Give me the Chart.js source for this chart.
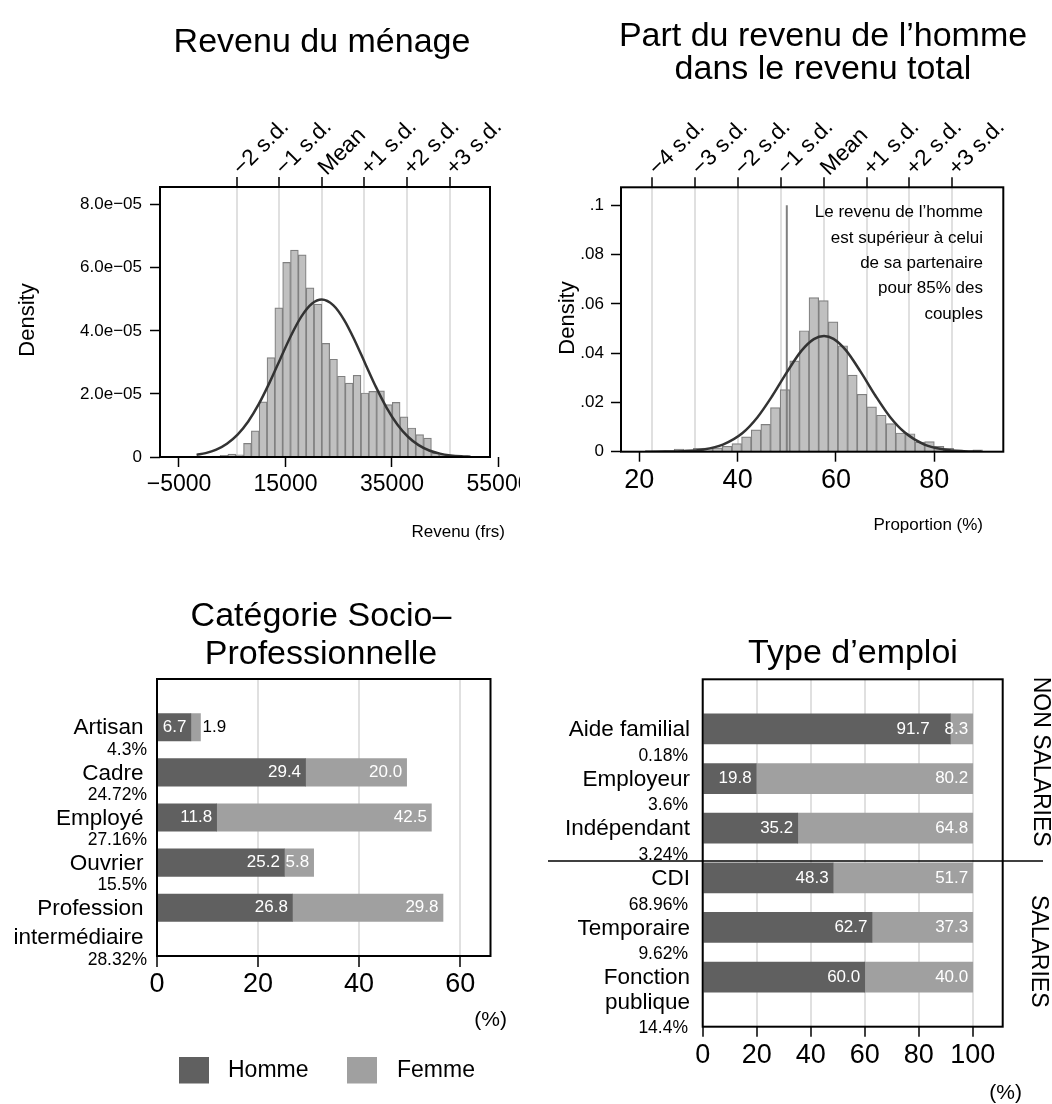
<!DOCTYPE html>
<html>
<head>
<meta charset="utf-8">
<script src="https://cdn.jsdelivr.net/npm/chart.js@4.4.0/dist/chart.umd.min.js"></script>
<style>
  html, body { margin: 0; padding: 0; background: #fff; }
  #page { position: relative; width: 1052px; height: 1104px; overflow: hidden; background: #fff; }
  #page canvas { position: absolute; }
</style>
</head>
<body>
<div id="page">
  <canvas id="revenu" width="520" height="552" style="left:0px;top:0px"></canvas>
  <canvas id="part" width="532" height="552" style="left:520px;top:0px"></canvas>
  <canvas id="csp" width="540" height="552" style="left:0px;top:552px"></canvas>
  <canvas id="emploi" width="512" height="552" style="left:540px;top:552px"></canvas>
</div>
<script>
// ---- Revenu du ménage (histogram, density in units of 1e-05) ----
const revenuBinStart = -1700;
const revenuBinWidth = 1470;
const revenuDensity = [0.02, 0.02, 0.03, 0.05, 0.09, 0.07, 0.43, 0.83, 1.75, 3.15, 4.73, 6.17, 6.56, 6.41, 5.36,
  4.85, 3.60, 3.10, 2.56, 2.34, 2.59, 2.03, 2.08, 2.10, 1.66, 1.73, 1.27, 0.92, 0.71, 0.60, 0.13, 0.07, 0.04, 0.03, 0.02];
const revenuCurveX = [-1700, 0, 2000, 4000, 6000, 8000, 10000, 12000, 14000, 16000, 18000, 20000, 21800, 24000,
  26000, 28000, 30000, 32000, 34000, 36000, 38000, 40000, 42000, 44000, 46000, 48000, 49750];
const revenuCurveY = [0.067, 0.122, 0.233, 0.420, 0.710, 1.127, 1.682, 2.357, 3.102, 3.837, 4.458, 4.865, 4.99, 4.805,
  4.348, 3.696, 2.951, 2.214, 1.560, 1.032, 0.642, 0.375, 0.206, 0.106, 0.051, 0.023, 0.011];
const revenuXTicks = [-5000, 15000, 35000, 55000];
const revenuXLabels = ['\u22125000', '15000', '35000', '55000'];
const revenuYTicks = [0, 2, 4, 6, 8];
const revenuYLabels = ['0', '2.0e\u221205', '4.0e\u221205', '6.0e\u221205', '8.0e\u221205'];
const revenuSdTicks = [5800, 13800, 21800, 29800, 37800, 45800];
const revenuSdLabels = ['\u22122 s.d.', '\u22121 s.d.', 'Mean', '+1 s.d.', '+2 s.d.', '+3 s.d.'];

// ---- Part du revenu de l'homme ----
const partBinStart = 21.2;
const partBinWidth = 1.96;
const partDensity = [0.0003, 0.0001, 0.0004, 0.0011, 0.0008, 0.0014, 0.0015, 0.0016, 0.0022, 0.0033, 0.0060, 0.0089,
  0.0111, 0.0179, 0.0252, 0.0369, 0.0491, 0.0625, 0.0613, 0.0527, 0.0430, 0.0311, 0.0233, 0.0182, 0.0148, 0.0114,
  0.0076, 0.0073, 0.0039, 0.0041, 0.0022, 0.0014, 0.0004, 0.0003, 0.0008];
const partCurveX = [21.2, 25, 29, 33, 37, 41, 44, 47, 50, 53, 55.5, 57.57, 59.5, 62, 65, 68, 71, 74, 78, 82, 86, 89.6];
const partCurveY = [0.00001, 0.00004, 0.0002, 0.0009, 0.0029, 0.0076, 0.0139, 0.0225, 0.0322, 0.0410, 0.0457, 0.0470,
  0.0458, 0.0412, 0.0325, 0.0228, 0.0141, 0.0078, 0.0029, 0.0009, 0.0002, 0.00005];
const partXTicks = [20, 40, 60, 80];
const partXLabels = ['20', '40', '60', '80'];
const partYTicks = [0, 0.02, 0.04, 0.06, 0.08, 0.1];
const partYLabels = ['0', '.02', '.04', '.06', '.08', '.1'];
const partSdTicks = [22.64, 31.39, 40.07, 48.75, 57.57, 66.26, 74.94, 83.62];
const partSdLabels = ['\u22124 s.d.', '\u22123 s.d.', '\u22122 s.d.', '\u22121 s.d.', 'Mean', '+1 s.d.', '+2 s.d.', '+3 s.d.'];
const partThreshold = 50;
const partThresholdTop = 0.1;
const partNote = ['Le revenu de l\u2019homme', 'est sup\u00e9rieur \u00e0 celui', 'de sa partenaire', 'pour 85% des', 'couples'];

// ---- Catégorie Socio-Professionnelle ----
const cspCategories = [['Artisan'], ['Cadre'], ['Employ\u00e9'], ['Ouvrier'], ['Profession', 'interm\u00e9diaire']];
const cspShares = ['4.3%', '24.72%', '27.16%', '15.5%', '28.32%'];
const cspHomme = [6.7, 29.4, 11.8, 25.2, 26.8];
const cspFemme = [1.9, 20.0, 42.5, 5.8, 29.8];
const cspXTicks = [0, 20, 40, 60];

// ---- Type d'emploi ----
const emploiCategories = [['Aide familial'], ['Employeur'], ['Ind\u00e9pendant'], ['CDI'], ['Temporaire'], ['Fonction', 'publique']];
const emploiShares = ['0.18%', '3.6%', '3.24%', '68.96%', '9.62%', '14.4%'];
const emploiHomme = [91.7, 19.8, 35.2, 48.3, 62.7, 60.0];
const emploiFemme = [8.3, 80.2, 64.8, 51.7, 37.3, 40.0];
const emploiXTicks = [0, 20, 40, 60, 80, 100];
const emploiGroups = ['NON SALARIES', 'SALARIES'];

const seriesNames = ['Homme', 'Femme'];
const seriesColors = ['#606060', '#a0a0a0'];

const FONT = "'Liberation Sans', Arial, Helvetica, sans-serif";
Chart.defaults.font.family = FONT;
Chart.defaults.color = '#000';

function drawText(ctx, str, x, y, size, align, baseline, color, rotate) {
  ctx.save();
  ctx.font = size + 'px ' + FONT;
  ctx.fillStyle = color || '#000';
  ctx.textAlign = align || 'left';
  ctx.textBaseline = baseline || 'middle';
  ctx.translate(x, y);
  if (rotate) ctx.rotate(rotate);
  ctx.fillText(str, 0, 0);
  ctx.restore();
}

function fixedSize(w, h) {
  return function(scale) {
    if (w !== null) scale.width = w;
    if (h !== null) scale.height = h;
    scale.paddingLeft = 0;
    scale.paddingRight = 0;
    scale.paddingTop = 0;
    scale.paddingBottom = 0;
  };
}

function boxPlugin() {
  return {
    id: 'box',
    afterDraw(chart) {
      const a = chart.chartArea, ctx = chart.ctx;
      ctx.save();
      ctx.strokeStyle = '#000';
      ctx.lineWidth = 2;
      ctx.strokeRect(a.left, a.top, a.right - a.left, a.bottom - a.top);
      ctx.restore();
    }
  };
}

// histogram + normal curve panel
function histogram(id, cfg) {
  const canvas = document.getElementById(id);
  const ox = cfg.offset[0], oy = cfg.offset[1];
  const L = cfg.box[0] - ox, R = cfg.box[1] - ox, T = cfg.box[2] - oy, B = cfg.box[3] - oy;
  const centers = cfg.density.map((d, i) => cfg.binStart + cfg.binWidth * (i + 0.5));
  const datasets = [
    {
      type: 'line', xAxisID: 'x', yAxisID: 'y', order: 0,
      data: cfg.curveX.map((x, i) => ({x: x, y: cfg.curveY[i]})),
      borderColor: '#333333', borderWidth: 2.5, pointRadius: 0, fill: false,
      cubicInterpolationMode: 'monotone'
    },
    {
      type: 'bar', xAxisID: 'x', yAxisID: 'y', order: 2,
      data: centers.map((x, i) => ({x: x, y: cfg.density[i]})),
      backgroundColor: '#c0c0c0', borderColor: '#808080', borderWidth: 1.2,
      barPercentage: 1, categoryPercentage: 1
    }
  ];
  if (cfg.vline) {
    datasets.push({
      type: 'line', xAxisID: 'x', yAxisID: 'y', order: 1,
      data: [{x: cfg.vline[0], y: 0}, {x: cfg.vline[0], y: cfg.vline[1]}],
      borderColor: '#808080', borderWidth: 2, pointRadius: 0, fill: false
    });
  }
  return new Chart(canvas, {
    type: 'bar',
    data: {datasets: datasets},
    options: {
      responsive: false,
      animation: false,
      layout: {padding: {left: 0, top: 0, right: canvas.width - R, bottom: 0}},
      plugins: {legend: {display: false}, tooltip: {enabled: false}},
      scales: {
        x: {
          type: 'linear', position: 'bottom', min: cfg.xMin, max: cfg.xMax, offset: false,
          afterBuildTicks: s => { s.ticks = cfg.xTicks.map(v => ({value: v})); },
          afterFit: fixedSize(null, canvas.height - B),
          ticks: {
            autoSkip: false, minRotation: 0, maxRotation: 0, padding: cfg.xPad,
            font: {size: cfg.xFont, lineHeight: 1}, callback: (v, i) => cfg.xLabels[i]
          },
          grid: {display: true, drawOnChartArea: false, offset: false, tickLength: 10, tickColor: '#000', tickWidth: 1.5},
          border: {display: false}
        },
        xTop: {
          type: 'linear', position: 'top', min: cfg.xMin, max: cfg.xMax, offset: false,
          afterBuildTicks: s => { s.ticks = cfg.sdTicks.map(v => ({value: v})); },
          afterFit: fixedSize(null, T),
          ticks: {display: false, autoSkip: false, minRotation: 0, maxRotation: 0},
          grid: {display: true, drawOnChartArea: true, offset: false, color: '#e0e0e0', lineWidth: 2,
                 tickLength: 10, tickColor: '#000', tickWidth: 1.5},
          border: {display: false}
        },
        y: {
          type: 'linear', position: 'left', min: 0, max: cfg.yMax,
          afterBuildTicks: s => { s.ticks = cfg.yTicks.map(v => ({value: v})); },
          afterFit: fixedSize(L, null),
          ticks: {autoSkip: false, padding: cfg.yPad, font: {size: 17, lineHeight: 1}, callback: (v, i) => cfg.yLabels[i]},
          grid: {display: true, drawOnChartArea: false, tickLength: 10, tickColor: '#000', tickWidth: 1.5},
          border: {display: false}
        }
      }
    },
    plugins: [boxPlugin(), {
      id: 'texts',
      afterDraw(chart) {
        const ctx = chart.ctx;
        const xs = chart.scales.xTop;
        const top = chart.chartArea.top;
        ctx.save();
        ctx.translate(-ox, -oy);
        // rotated s.d. labels above the tick marks
        cfg.sdTicks.forEach((v, i) => {
          const px = xs.getPixelForValue(v) + ox;
          drawText(ctx, cfg.sdLabels[i], px + 5, top + oy - 11, 22.5, 'left', 'alphabetic', '#000', -Math.PI / 4);
        });
        cfg.title.forEach((t, k) => drawText(ctx, t, cfg.titleX, cfg.titleY[k], 34, 'center', 'alphabetic'));
        drawText(ctx, 'Density', cfg.densityAt[0], cfg.densityAt[1], 22, 'center', 'middle', '#000', -Math.PI / 2);
        drawText(ctx, cfg.xTitle, cfg.xTitleAt[0], cfg.xTitleAt[1], 17, 'right');
        if (cfg.note) {
          cfg.note.forEach((t, k) => drawText(ctx, t, cfg.noteAt[0], cfg.noteAt[1] + k * 25.3, 17, 'right'));
        }
        ctx.restore();
      }
    }]
  });
}

function barLabels(chart, homme, femme) {
  const ctx = chart.ctx;
  const m0 = chart.getDatasetMeta(0), m1 = chart.getDatasetMeta(1);
  ctx.save();
  ctx.font = '17px ' + FONT;
  ctx.textBaseline = 'middle';
  homme.forEach((v, i) => {
    const h = m0.data[i], f = m1.data[i];
    const hText = v.toFixed(1), fText = femme[i].toFixed(1);
    const fw = ctx.measureText(fText).width;
    let fLeft = Infinity;
    if (f.x - f.base < fw / 2) {
      ctx.fillStyle = '#000';
      ctx.textAlign = 'left';
      ctx.fillText(fText, f.x + 2, f.y);
    } else {
      ctx.fillStyle = '#fff';
      ctx.textAlign = 'right';
      ctx.fillText(fText, f.x - 4.5, f.y);
      fLeft = f.x - 4.5 - fw;
    }
    let hRight = h.x - 4.5;
    if (hRight > fLeft - 3) hRight = fLeft - 15;
    ctx.fillStyle = '#fff';
    ctx.textAlign = 'right';
    ctx.fillText(hText, hRight, h.y);
  });
  ctx.restore();
}

// stacked horizontal bars panel
function stackedBars(id, cfg) {
  const canvas = document.getElementById(id);
  const ox = cfg.offset[0], oy = cfg.offset[1];
  const L = cfg.box[0] - ox, R = cfg.box[1] - ox, T = cfg.box[2] - oy, B = cfg.box[3] - oy;
  return new Chart(canvas, {
    type: 'bar',
    data: {
      datasets: [cfg.homme, cfg.femme].map((vals, s) => ({
        label: seriesNames[s],
        data: vals.map((v, i) => ({x: v, y: i})),
        backgroundColor: seriesColors[s],
        borderWidth: 0,
        barThickness: cfg.barThickness,
        stack: 'all'
      }))
    },
    options: {
      indexAxis: 'y',
      responsive: false,
      animation: false,
      layout: {padding: {left: L, top: T, right: canvas.width - R, bottom: 0}},
      plugins: {legend: {display: false}, tooltip: {enabled: false}},
      scales: {
        x: {
          type: 'linear', position: 'bottom', stacked: true, min: 0, max: cfg.xMax, offset: false,
          afterBuildTicks: s => { s.ticks = cfg.xTicks.map(v => ({value: v})); },
          afterFit: fixedSize(null, canvas.height - B),
          ticks: {autoSkip: false, minRotation: 0, maxRotation: 0, padding: cfg.xPad,
                  font: {size: 27, lineHeight: 1}, callback: v => String(v)},
          grid: {display: true, drawOnChartArea: true, offset: false, color: '#e0e0e0', lineWidth: 2,
                 tickLength: cfg.tickLength, tickColor: '#000', tickWidth: 1.5},
          border: {display: false}
        },
        y: {
          type: 'linear', display: false, stacked: true, reverse: true, offset: false,
          min: cfg.yMin, max: cfg.yMax
        }
      }
    },
    plugins: [boxPlugin(), {
      id: 'texts',
      afterDraw(chart) {
        const ctx = chart.ctx;
        const ys = chart.scales.y;
        barLabels(chart, cfg.homme, cfg.femme);
        ctx.save();
        ctx.translate(-ox, -oy);
        cfg.title.forEach((t, k) => drawText(ctx, t, cfg.titleX, cfg.titleY[k], 34, 'center', 'alphabetic'));
        cfg.categories.forEach((lines, i) => {
          const y = ys.getPixelForValue(i) + oy;
          lines.forEach((t, k) => drawText(ctx, t, cfg.nameRight, y + 1 + k * cfg.lineStep, 22.5, 'right'));
          drawText(ctx, cfg.shares[i], cfg.shareRight, y + (lines.length - 1) * cfg.lineStep + cfg.shareGap, 17.5, 'right');
        });
        drawText(ctx, '(%)', cfg.unitAt[0], cfg.unitAt[1], 21, 'right');
        if (cfg.extra) cfg.extra(ctx, chart, ox, oy);
        ctx.restore();
      }
    }]
  });
}

histogram('revenu', {
  offset: [0, 0], box: [160, 490, 187, 457],
  xMin: -8568, xMax: 53404, yMax: 8.56,
  binStart: revenuBinStart, binWidth: revenuBinWidth, density: revenuDensity,
  curveX: revenuCurveX, curveY: revenuCurveY,
  xTicks: revenuXTicks, xLabels: revenuXLabels, xFont: 23, xPad: 6,
  yTicks: revenuYTicks, yLabels: revenuYLabels, yPad: 8,
  sdTicks: revenuSdTicks, sdLabels: revenuSdLabels,
  title: ['Revenu du m\u00e9nage'], titleX: 322, titleY: [52],
  densityAt: [28, 320], xTitle: 'Revenu (frs)', xTitleAt: [505, 532]
});

histogram('part', {
  offset: [520, 0], box: [621, 1003.3, 187.3, 451.7],
  xMin: 16.28, xMax: 94.03, yMax: 0.1073,
  binStart: partBinStart, binWidth: partBinWidth, density: partDensity,
  curveX: partCurveX, curveY: partCurveY,
  vline: [partThreshold, partThresholdTop],
  xTicks: partXTicks, xLabels: partXLabels, xFont: 27, xPad: 5,
  yTicks: partYTicks, yLabels: partYLabels, yPad: 7,
  sdTicks: partSdTicks, sdLabels: partSdLabels,
  title: ['Part du revenu de l\u2019homme', 'dans le revenu total'], titleX: 823, titleY: [46, 79],
  densityAt: [568, 318], xTitle: 'Proportion (%)', xTitleAt: [983, 525],
  note: partNote, noteAt: [983, 212.7]
});

stackedBars('csp', {
  offset: [0, 552], box: [157, 490.5, 679, 956],
  xMax: 66, yMin: -1.07, yMax: 5.07, barThickness: 27.5,
  xTicks: cspXTicks, xPad: 4.5, tickLength: 11,
  homme: cspHomme, femme: cspFemme,
  categories: cspCategories, shares: cspShares,
  nameRight: 143.5, shareRight: 147, lineStep: 29, shareGap: 23,
  title: ['Cat\u00e9gorie Socio\u2013', 'Professionnelle'], titleX: 321, titleY: [626, 664],
  unitAt: [507, 1020],
  extra(ctx) {
    const boxes = [179, 347], texts = [228, 397];
    seriesNames.forEach((n, s) => {
      ctx.fillStyle = seriesColors[s];
      ctx.fillRect(boxes[s], 1057, 30, 26.5);
      drawText(ctx, n, texts[s], 1071, 23, 'left');
    });
  }
});

stackedBars('emploi', {
  offset: [540, 552], box: [702.7, 1002.7, 679.3, 1026.7],
  xMax: 111.1, yMin: -1, yMax: 6, barThickness: 30,
  xTicks: emploiXTicks, xPad: 5, tickLength: 10,
  homme: emploiHomme, femme: emploiFemme,
  categories: emploiCategories, shares: emploiShares,
  nameRight: 690, shareRight: 688, lineStep: 24.5, shareGap: 27,
  title: ['Type d\u2019emploi'], titleX: 853, titleY: [663],
  unitAt: [1022, 1093],
  extra(ctx, chart, ox, oy) {
    const ys = chart.scales.y;
    const sepY = ys.getPixelForValue(2.66) + oy;
    ctx.save();
    ctx.strokeStyle = '#000';
    ctx.lineWidth = 1.5;
    ctx.beginPath();
    ctx.moveTo(548, sepY);
    ctx.lineTo(1043, sepY);
    ctx.stroke();
    ctx.restore();
    drawText(ctx, emploiGroups[0], 1040, ys.getPixelForValue(0.66) + oy, 23, 'center', 'middle', '#000', Math.PI / 2);
    drawText(ctx, emploiGroups[1], 1038, ys.getPixelForValue(4.48) + oy, 23, 'center', 'middle', '#000', Math.PI / 2);
  }
});
</script>
</body>
</html>
